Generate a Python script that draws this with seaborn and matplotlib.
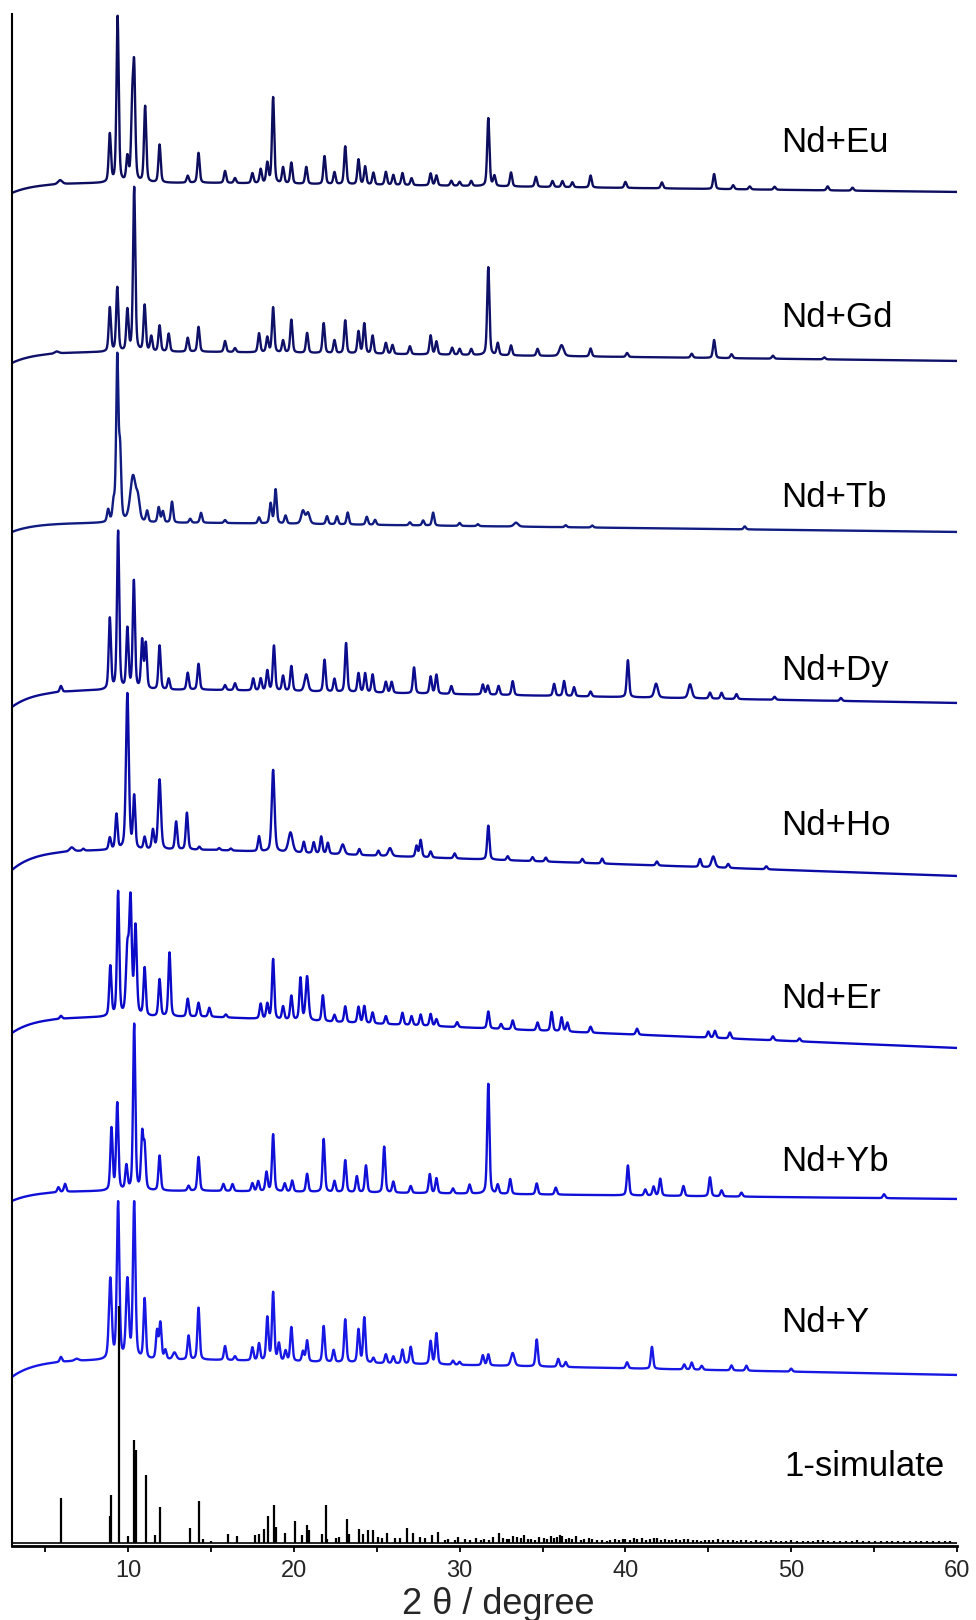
import numpy as np
import pandas as pd
import matplotlib
matplotlib.use("Agg")
import matplotlib.pyplot as plt
import seaborn as sns
from matplotlib.ticker import MultipleLocator

# 2-theta grid of the measured patterns
two_theta = np.arange(3.0, 60.0001, 0.01)

names = ["Nd+Eu", "Nd+Gd", "Nd+Tb", "Nd+Dy", "Nd+Ho", "Nd+Er", "Nd+Yb", "Nd+Y"]
colors = ["#0d0d5e", "#0f1068", "#101c80", "#0c0c8e", "#0b0ba6", "#0a0ac8",
          "#1010d8", "#1818e4"]

# stacking offsets (a.u.): baseline near 10-20 deg, at 3 deg and at 60 deg
base_mid = [1363, 1194, 1023, 856, 696, 529, 355, 186]
base_start = [1353, 1183, 1014, 839, 676, 513, 345, 169]
base_end = [1354, 1185, 1014, 843, 670, 498, 347, 171]
sim_offset = 3

# peaks: (2theta, height) or (2theta, height, fwhm)
eu_peaks = [(5.9, 4, 0.3), (8.9, 48), (9.37, 166), (9.96, 24), (10.25, 66), (10.37, 106),
            (11.03, 76), (11.9, 38), (13.6, 7), (14.25, 30), (15.85, 12), (16.45, 5),
            (17.5, 10), (18.0, 14), (18.4, 20), (18.75, 86), (19.35, 16), (19.85, 21),
            (20.75, 17), (21.85, 28), (22.45, 12), (23.1, 38), (23.9, 25), (24.3, 18),
            (24.8, 12), (25.55, 13), (26.0, 10), (26.55, 12), (27.1, 7), (28.25, 12),
            (28.6, 10), (29.5, 5), (30.0, 4), (30.7, 5), (31.73, 68), (32.1, 10),
            (33.1, 14), (34.6, 10), (35.6, 6), (36.2, 6), (36.8, 5), (37.9, 12),
            (40.0, 6), (42.2, 6), (45.35, 15), (46.5, 4), (47.5, 3), (49.0, 3),
            (52.2, 4), (53.7, 3)]
gd_peaks = [(5.7, 2, 0.3), (8.9, 44), (9.35, 64), (9.96, 41), (10.37, 164), (11.0, 46),
            (11.4, 15), (11.9, 26), (12.45, 18), (13.6, 14), (14.25, 25), (15.85, 11),
            (16.45, 4), (17.9, 19), (18.4, 15), (18.75, 45), (19.35, 12), (19.85, 33),
            (20.8, 20), (21.8, 30), (22.45, 13), (23.1, 33), (23.9, 22), (24.25, 30),
            (24.75, 18), (25.55, 11), (25.95, 9), (27.0, 8), (28.25, 19), (28.6, 13),
            (29.55, 7), (30.0, 6), (30.7, 6), (31.73, 88), (32.3, 12), (33.1, 10),
            (34.7, 7), (36.15, 11, 0.3), (37.9, 8), (40.1, 4), (44.0, 4), (45.35, 18),
            (46.4, 4), (48.9, 3), (52.0, 2)]
tb_peaks = [(8.8, 12), (9.13, 17), (9.35, 162), (9.52, 66), (10.3, 46, 0.4),
            (10.6, 18, 0.25), (11.15, 11), (11.85, 15), (12.1, 11), (12.65, 21),
            (13.75, 4), (14.4, 10), (15.85, 3), (17.9, 6), (18.6, 20), (18.9, 34),
            (19.5, 8), (20.55, 13, 0.25), (20.85, 11, 0.25), (22.0, 8), (22.6, 8),
            (23.25, 12), (24.4, 8), (24.9, 5), (27.0, 3), (27.8, 5), (28.4, 13),
            (30.0, 3), (31.1, 2), (33.4, 4, 0.3), (36.4, 2), (38.0, 2), (47.2, 3)]
dy_peaks = [(5.95, 6), (8.9, 71), (9.4, 158), (9.96, 60), (10.35, 108), (10.85, 48),
            (11.07, 45), (11.9, 44), (12.45, 11), (13.6, 17), (14.25, 26), (15.85, 5),
            (16.45, 7), (17.55, 12), (18.0, 12), (18.4, 20), (18.8, 45), (19.35, 15),
            (19.85, 25), (20.75, 17, 0.25), (21.85, 32), (22.45, 13), (23.15, 49),
            (23.9, 19), (24.3, 19), (24.75, 18), (25.55, 11), (25.9, 11), (27.25, 26),
            (28.25, 17), (28.6, 19), (29.5, 8), (31.4, 10), (31.7, 9), (32.35, 9),
            (33.2, 14), (35.7, 12), (36.3, 15), (36.9, 9), (37.9, 5), (40.15, 37),
            (41.85, 14, 0.25), (43.9, 14, 0.25), (45.1, 6), (45.8, 6), (46.7, 5),
            (49.0, 3), (53.0, 3)]
ho_peaks = [(6.6, 4, 0.3), (7.3, 2), (8.9, 12), (9.3, 35), (9.96, 156, 0.2), (10.37, 52),
            (11.0, 12), (11.5, 19), (11.9, 70, 0.2), (12.9, 28), (13.55, 37), (14.3, 3),
            (15.5, 2), (16.2, 2), (17.9, 15), (18.75, 82, 0.2), (19.8, 20, 0.3),
            (20.6, 11), (21.2, 11), (21.65, 17), (22.05, 11), (22.95, 10, 0.25),
            (23.95, 6), (25.1, 5), (25.8, 8, 0.25), (27.4, 11), (27.65, 17), (28.25, 6),
            (29.7, 5), (31.73, 34), (32.9, 4), (34.4, 4), (35.2, 4), (37.4, 4),
            (38.6, 5), (41.9, 4), (44.5, 8), (45.3, 11, 0.25), (46.2, 4), (48.5, 3)]
er_peaks = [(5.95, 3), (8.93, 50), (9.4, 124), (9.96, 64, 0.2), (10.15, 112, 0.18),
            (10.45, 88, 0.18), (11.0, 48), (11.9, 37), (12.5, 64), (13.6, 18),
            (14.25, 14), (14.9, 9), (15.9, 3), (18.0, 15), (18.4, 15), (18.75, 60),
            (19.35, 13), (19.85, 24), (20.4, 42), (20.8, 44, 0.2), (21.75, 26),
            (22.45, 7), (23.1, 16), (23.9, 16), (24.25, 17), (24.75, 11), (25.55, 8),
            (26.55, 12), (27.1, 9), (27.65, 11), (28.25, 12), (28.6, 7), (29.85, 5),
            (31.73, 17), (32.5, 5), (33.2, 9), (34.7, 8), (35.55, 19), (36.15, 14),
            (36.5, 9), (37.9, 6), (40.7, 6), (45.0, 6), (45.4, 7), (46.3, 6),
            (48.9, 4), (50.5, 3)]
yb_peaks = [(5.8, 5), (6.2, 8), (9.0, 62), (9.35, 87), (9.9, 24), (10.37, 166),
            (10.85, 54), (11.0, 41), (11.9, 35), (13.65, 5), (14.25, 34), (15.75, 7),
            (16.3, 7), (17.5, 8), (17.85, 10), (18.35, 19), (18.75, 57), (19.45, 8),
            (19.9, 11), (20.8, 18), (21.8, 53), (22.45, 11), (23.1, 32), (23.8, 16),
            (24.35, 27), (25.45, 46), (26.0, 11), (27.05, 7), (28.2, 19), (28.6, 15),
            (29.6, 5), (30.6, 9), (31.73, 110), (32.3, 9), (33.05, 15), (34.65, 11),
            (35.8, 7), (40.15, 30), (41.2, 6), (41.7, 9), (42.1, 17), (43.5, 10),
            (45.1, 19), (45.8, 6), (47.0, 4), (55.6, 4)]
y_peaks = [(5.95, 5), (6.9, 2, 0.3), (8.93, 80, 0.2), (9.4, 156, 0.18), (9.96, 78, 0.2),
           (10.37, 156, 0.18), (11.0, 60), (11.75, 28), (11.95, 36), (12.25, 9),
           (12.8, 7, 0.25), (13.65, 24), (14.25, 52), (15.85, 14), (16.45, 4),
           (17.5, 13), (17.9, 17), (18.4, 43), (18.75, 68), (19.1, 17), (19.5, 10),
           (19.85, 34), (20.55, 10), (20.8, 21), (21.8, 36), (22.4, 12), (23.1, 43),
           (23.9, 33), (24.25, 45), (24.8, 5), (25.55, 9), (26.0, 7), (26.55, 14),
           (27.05, 17), (28.25, 23), (28.6, 31), (29.6, 4), (30.0, 3), (31.4, 10),
           (31.73, 11), (33.2, 13, 0.25), (34.65, 27), (35.95, 8), (36.4, 5), (40.1, 6),
           (41.6, 22), (43.55, 5), (44.0, 7), (44.6, 4), (46.4, 5), (47.3, 5), (50.0, 3)]

sim_pos = [5.97, 8.9, 8.99, 9.45, 10.0, 10.37, 10.45, 11.06, 11.6, 11.92, 13.75, 14.3,
           14.5, 15.0, 16.0, 16.6, 17.65, 17.9, 18.2, 18.45, 18.8, 18.9, 19.45, 20.05,
           20.5, 20.8, 20.9, 21.7, 21.95, 22.0, 22.55, 22.75, 23.2, 23.35, 23.95, 24.15,
           24.5, 24.8, 25.1, 25.3, 25.6, 26.1, 26.4, 26.8, 27.2, 27.6, 27.9, 28.35, 28.7,
           29.1, 29.3, 29.7, 29.9, 30.3, 30.6, 31.0, 31.3, 31.5, 31.8, 32.0, 32.35, 32.6,
           32.85, 33.0, 33.2, 33.45, 33.7, 33.9, 34.1, 34.3, 34.55, 34.8, 35.1, 35.3,
           35.5, 35.7, 35.9, 36.05, 36.2, 36.4, 36.6, 36.8, 37.0, 37.3, 37.5, 37.8, 38.0,
           38.3, 38.6, 38.9, 39.1, 39.4, 39.6, 39.85, 40.0, 40.25, 40.5, 40.7, 41.0,
           41.25, 41.5, 41.7, 41.9, 42.15, 42.4, 42.6, 42.8, 43.05, 43.3, 43.55, 43.8,
           44.05, 44.3, 44.55, 44.8, 45.05, 45.3, 45.6, 45.9, 46.2, 46.5, 46.75, 47.0,
           47.3, 47.6, 47.9, 48.2, 48.5, 48.8, 49.1, 49.4, 49.7, 50.0, 50.35, 50.7, 51.0,
           51.3, 51.6, 51.9, 52.25, 52.6, 52.95, 53.3, 53.65, 54.0, 54.35, 54.7, 55.05,
           55.4, 55.75, 56.1, 56.45, 56.8, 57.15, 57.5, 57.85, 58.2, 58.55, 58.9, 59.25,
           59.6]
sim_int = [45, 27, 48, 237, 7, 103, 93, 68, 8, 36, 15, 42,
           4, 2, 9, 7, 8, 9, 14, 27, 38, 16, 10, 22,
           8, 18, 13, 9, 38, 4, 5, 6, 24, 9, 14, 9,
           13, 13, 6, 5, 10, 5, 5, 15, 10, 6, 5, 8, 11,
           3, 4, 3, 6, 4, 3, 5, 3, 4, 3, 6, 10, 5,
           4, 4, 7, 6, 5, 8, 4, 4, 3, 6, 5, 4,
           7, 5, 6, 8, 7, 4, 5, 4, 7, 3, 4, 5, 4,
           3, 3, 2, 3, 4, 3, 4, 4, 3, 5, 4, 5,
           3, 4, 5, 5, 3, 4, 3, 3, 4, 3, 4, 4,
           3, 3, 2, 3, 3, 3, 4, 3, 3, 3, 2, 3,
           3, 2, 3, 2, 2, 3, 2, 2, 2, 3, 2, 2, 2,
           2, 3, 3, 2, 2, 2, 2, 2, 3, 2, 2, 2,
           2, 2, 2, 2, 2, 2, 2, 2, 2, 2, 2, 2,
           2]

all_peaks = [eu_peaks, gd_peaks, tb_peaks, dy_peaks, ho_peaks, er_peaks, yb_peaks, y_peaks]


def pattern(x, peaks, mid, start, end, fwhm=0.16):
    y = mid - (mid - start) * np.exp(-(x - 3.0) / 1.4) \
        - (mid - end) * np.clip(x - 15.0, 0, None) / 45.0
    for p in peaks:
        pos, h = p[0], p[1]
        w = p[2] if len(p) > 2 else fwhm
        d = (x - pos) / w
        y = y + h * (0.6 * np.exp(-4 * np.log(2) * d ** 2) + 0.4 / (1 + 4 * d ** 2))
    return y


sns.set_theme(style="ticks")
plt.rcParams["font.family"] = ["Liberation Sans", "DejaVu Sans"]

fig = plt.figure(figsize=(9.76, 16.2), dpi=100)
ax = fig.add_axes([0.0123, 0.0457, 0.9682, 0.9457])

for name, peaks, c, m, s, e in zip(names, all_peaks, colors, base_mid, base_start, base_end):
    df = pd.DataFrame({"2theta": two_theta, "I": pattern(two_theta, peaks, m, s, e)})
    sns.lineplot(data=df, x="2theta", y="I", color=c, lw=1.7, estimator=None,
                 sort=False, ax=ax)

# simulated stick pattern
ax.axhline(sim_offset, color="black", lw=1.2)
ax.vlines(sim_pos, sim_offset, np.array(sim_int) + sim_offset, color="black", lw=1.6)

# sample labels
label_y = [1403, 1228, 1048, 875, 720, 547, 384, 223]
for name, ly in zip(names, label_y):
    ax.text(49.4, ly, name, fontsize=25, ha="left", va="center", color="black")
ax.text(49.6, 79, "1-simulate", fontsize=25, ha="left", va="center", color="black")

ax.set_xlim(3, 60)
ax.set_ylim(0, 1532)
ax.set_yticks([])
ax.xaxis.set_major_locator(MultipleLocator(10))
ax.xaxis.set_minor_locator(MultipleLocator(5))
ax.tick_params(axis="x", which="both", direction="out", length=4, width=1.3,
               labelsize=17, pad=6, color="black")
ax.set_xlabel("2 θ / degree", fontsize=26, labelpad=0)
ax.xaxis.set_label_coords(0.515, -0.027)
ax.set_ylabel("")
sns.despine(ax=ax, top=True, right=True)
ax.spines["left"].set_linewidth(1.5)
ax.spines["bottom"].set_linewidth(2.0)
ax.spines["left"].set_color("black")
ax.spines["bottom"].set_color("black")

fig.savefig("out.png", dpi=100)
